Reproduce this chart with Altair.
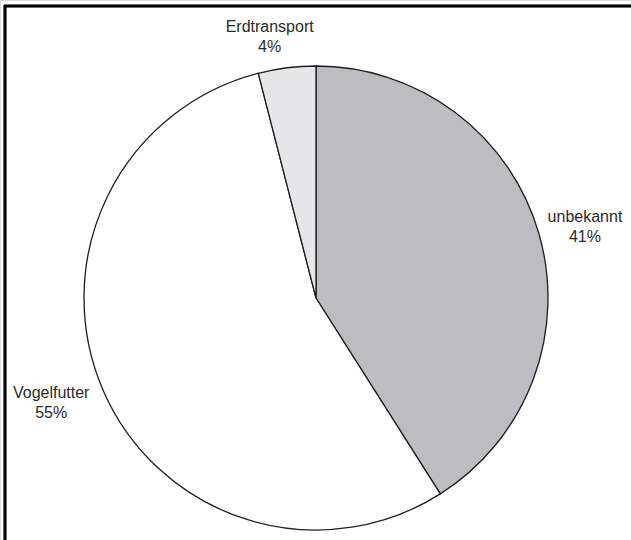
import altair as alt
import pandas as pd

# Shares of introduction pathways (percent)
categories = ["unbekannt", "Vogelfutter", "Erdtransport"]
shares = [41, 55, 4]
slice_colors = ["#bcbdc1", "#ffffff", "#e5e6e8"]

df = pd.DataFrame({
    "kategorie": categories,
    "anteil": shares,
    "reihenfolge": list(range(len(categories))),
})
df["beschriftung"] = [f"{k}\n{v}%" for k, v in zip(categories, shares)]

CX, CY, R = 316, 298, 232
FONT = "Liberation Sans"
theta_scale = alt.Scale(domain=[0, 100])

pie = alt.Chart(df).mark_arc(radius=R, stroke="#1e1e1e", strokeWidth=1.3).encode(
    theta=alt.Theta("anteil:Q", stack=True, scale=theta_scale),
    order=alt.Order("reihenfolge:Q"),
    color=alt.Color(
        "kategorie:N",
        scale=alt.Scale(domain=categories, range=slice_colors),
        legend=None,
    ),
    x=alt.value(CX),
    y=alt.value(CY),
)

# Mid-angle of each slice, computed before any per-label filtering
label_base = alt.Chart(df).transform_window(
    kumuliert="sum(anteil)", sort=[alt.SortField("reihenfolge")]
).transform_calculate(
    mitte="datum.kumuliert - datum.anteil / 2"
)

def label_layer(name, radius, dx=0, dy=0):
    return label_base.transform_filter(alt.datum.kategorie == name).mark_text(
        radius=radius, dx=dx, dy=dy, font=FONT, fontSize=16,
        lineBreak="\n", lineHeight=20, color="#2a2a2a",
        align="center", baseline="middle",
    ).encode(
        theta=alt.Theta("mitte:Q", stack=False, scale=theta_scale),
        x=alt.value(CX),
        y=alt.value(CY),
        text="beschriftung:N",
    )

labels = (
    label_layer("unbekannt", 278, dx=2, dy=-3)
    + label_layer("Vogelfutter", 282, dx=-6, dy=-17)
    + label_layer("Erdtransport", 266, dx=-13, dy=-7)
)

# Frame lines along the top and left edge
frame_top = alt.Chart(df).mark_rule(color="#000000", strokeWidth=2.5).encode(
    x=alt.value(4), x2=alt.value(631), y=alt.value(6)
)
frame_left = alt.Chart(df).mark_rule(color="#000000", strokeWidth=2.5).encode(
    x=alt.value(5), y=alt.value(5), y2=alt.value(540)
)

chart = (pie + labels + frame_top + frame_left).properties(
    width=631, height=540, padding=0,
    autosize=alt.AutoSizeParams(type="none"),
).configure_view(stroke=None).configure(background="#ffffff")

chart.save("out.html", embed_options={"renderer": "svg", "actions": False})
